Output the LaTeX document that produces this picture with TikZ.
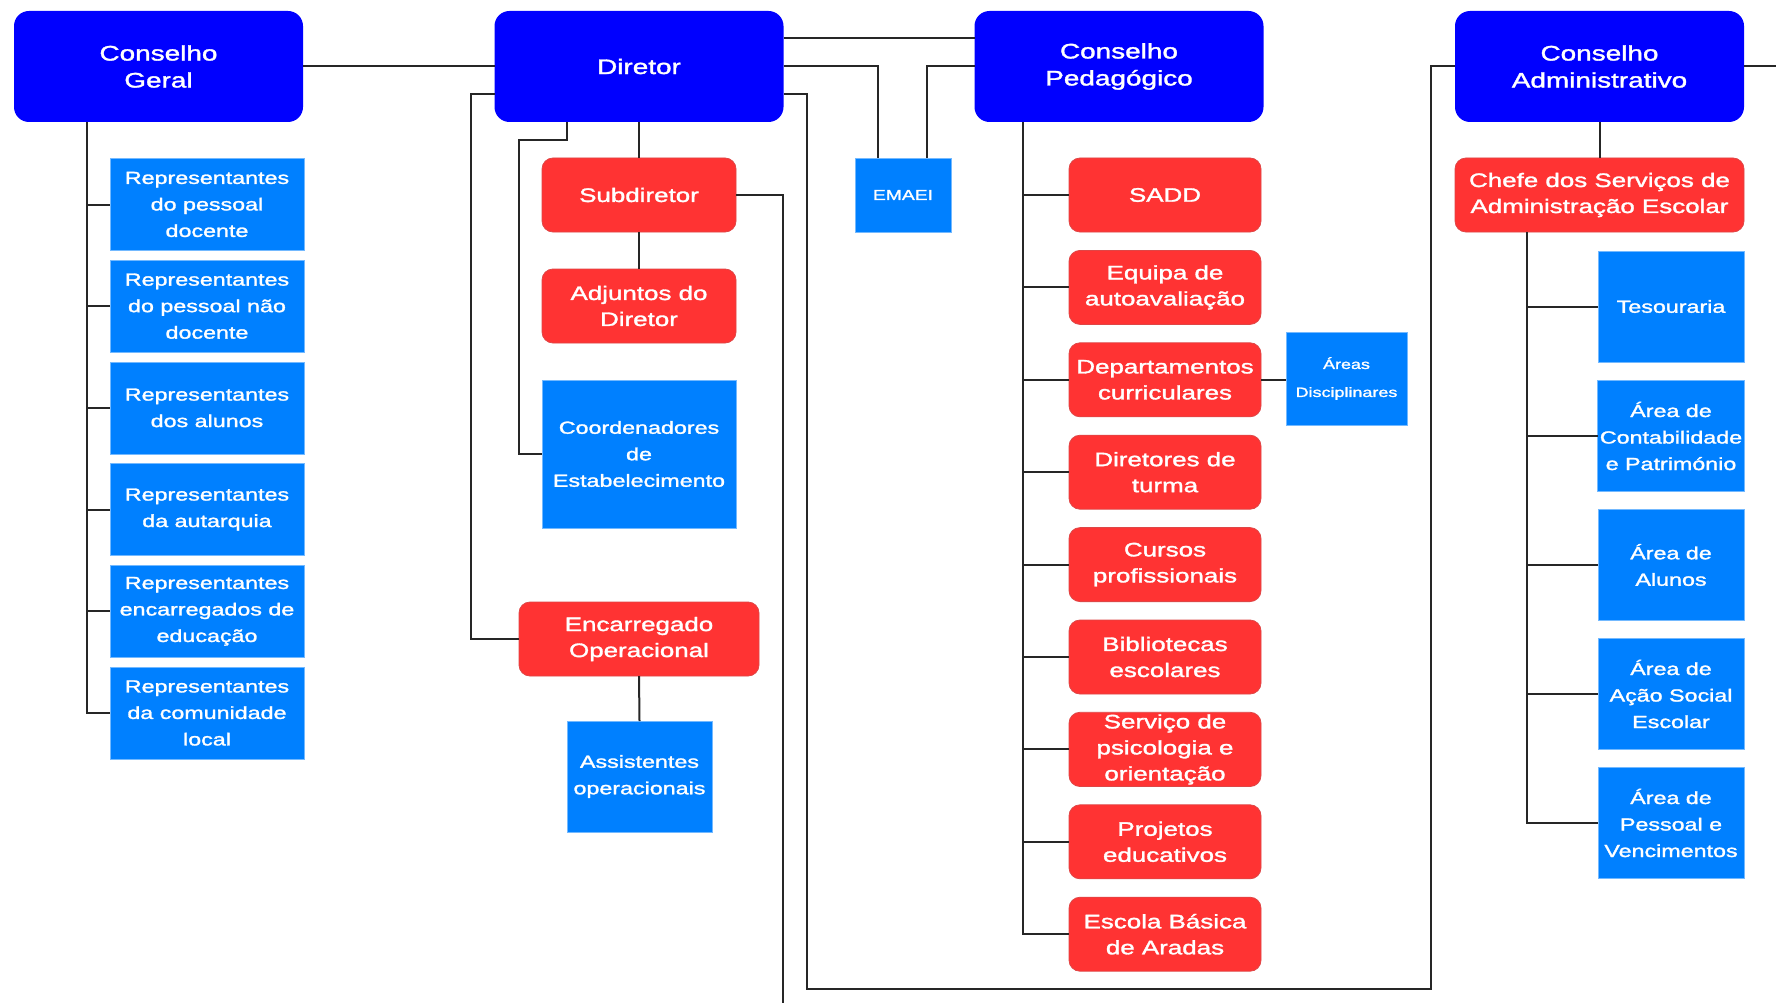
\documentclass[tikz,border=0pt]{standalone}
\usepackage{fontspec}
\setmainfont{Liberation Sans}[FakeStretch=1.33,FakeBold=1.6]
\definecolor{chiefblue}{HTML}{0000FF}
\definecolor{officered}{HTML}{FF3333}
\definecolor{unitblue}{HTML}{0080FF}

\begin{document}
\begin{tikzpicture}[x=1pt,y=-1pt,
  conn/.style={draw=black!85, line width=2pt},
  chief/.style={fill=chiefblue, rounded corners=15pt, minimum width=289pt, minimum height=111pt, inner sep=2pt, outer sep=0pt, text=white, align=center, font=\fontsize{21}{27}\selectfont},
  office/.style={fill=officered, draw=officered!75!gray, line width=0.8pt, rounded corners=11pt, minimum width=192pt, minimum height=74pt, inner sep=2pt, outer sep=0pt, text=white, align=center, font=\fontsize{19.5}{26}\selectfont},
  unit/.style={fill=unitblue, draw=unitblue!55!white, line width=0.8pt, inner sep=2pt, outer sep=0pt, text=white, align=center, font=\fontsize{17.5}{26.5}\selectfont}]
\path[use as bounding box, fill=white] (0,0) rectangle (1776,1003);

\node[chief] (cg) at (158.5,66.5) {Conselho\\Geral};
\node[chief] (dir) at (639,66.5) {Diretor};
\node[chief] (cp) at (1119,66.5) {Conselho\\Pedagógico};
\node[chief] (ca) at (1599.5,66.5) {Conselho\\Administrativo};

\node[unit, minimum width=194pt, minimum height=92pt] (rep1) at (207,204.5) {Representantes\\do pessoal\\docente};
\node[unit, minimum width=194pt, minimum height=92pt] (rep2) at (207,306.2) {Representantes\\do pessoal não\\docente};
\node[unit, minimum width=194pt, minimum height=92pt] (rep3) at (207,407.9) {Representantes\\dos alunos};
\node[unit, minimum width=194pt, minimum height=92pt] (rep4) at (207,509.6) {Representantes\\da autarquia};
\node[unit, minimum width=194pt, minimum height=92pt] (rep5) at (207,611.3) {Representantes\\encarregados de\\educação};
\node[unit, minimum width=194pt, minimum height=92pt] (rep6) at (207,713) {Representantes\\da comunidade\\local};

\node[office, minimum width=194pt] (sub) at (639,195) {Subdiretor};
\node[office, minimum width=194pt] (adj) at (639,306) {Adjuntos do\\Diretor};
\node[unit, minimum width=194pt, minimum height=148pt] (coord) at (639,454) {Coordenadores\\de\\Estabelecimento};
\node[office, minimum width=240pt] (enc) at (639,639) {Encarregado\\Operacional};
\node[unit, minimum width=145pt, minimum height=111pt] (assist) at (639.5,776.5) {Assistentes\\operacionais};

\node[unit, minimum width=96pt, minimum height=74pt, font=\fontsize{14.5}{20}\selectfont] (emaei) at (903,195) {EMAEI};

\node[office] (sadd) at (1165,195) {SADD};
\node[office] (equipa) at (1165,287.4) {Equipa de\\autoavaliação};
\node[office] (dept) at (1165,379.8) {Departamentos\\curriculares};
\node[office] (turma) at (1165,472.2) {Diretores de\\turma};
\node[office] (cursos) at (1165,564.6) {Cursos\\profissionais};
\node[office] (biblio) at (1165,657) {Bibliotecas\\escolares};
\node[office] (spo) at (1165,749.4) {Serviço de\\psicologia e\\orientação};
\node[office] (proj) at (1165,841.8) {Projetos\\educativos};
\node[office] (escola) at (1165,934.2) {Escola Básica\\de Aradas};
\node[unit, minimum width=121pt, minimum height=93pt, font=\fontsize{13.5}{28}\selectfont] (areas) at (1346.5,378.5) {Áreas\\Disciplinares};

\node[office, minimum width=289pt] (chefe) at (1599.5,195) {Chefe dos Serviços de\\Administração Escolar};
\node[unit, minimum width=146pt, minimum height=111pt] (tes) at (1671,306.5) {Tesouraria};
\node[unit, minimum width=146pt, minimum height=111pt] (cont) at (1671,436) {Área de\\Contabilidade\\e Património};
\node[unit, minimum width=146pt, minimum height=111pt] (alun) at (1671,565) {Área de\\Alunos};
\node[unit, minimum width=146pt, minimum height=111pt] (acao) at (1671,694) {Área de\\Ação Social\\Escolar};
\node[unit, minimum width=146pt, minimum height=111pt] (pess) at (1671,823) {Área de\\Pessoal e\\Vencimentos};

\coordinate (cgspine) at ([xshift=-71.5pt]cg.south);
\coordinate (cpspine) at ([xshift=-96pt]cp.south);
\coordinate (chspine) at ([xshift=-72.5pt]chefe.south);
\coordinate (dirbend) at (519,140);
\coordinate (encbend) at (471,94);
\coordinate (loopL) at (807,989);
\coordinate (loopR) at (1431,989);
\coordinate (offR) at (1776,66.5);
\coordinate (offB) at (783,1003);

\draw[conn] (cg.east) -- (dir.west);
\draw[conn] ([yshift=28.5pt]dir.east) -- ([yshift=28.5pt]cp.west);
\draw[conn] (dir.east) -| ([xshift=-25pt]emaei.north);
\draw[conn] (cp.west) -| ([xshift=24pt]emaei.north);
\draw[conn] ([yshift=-27.5pt]dir.east) -| (loopL) -- (loopR) |- (ca.west);
\draw[conn] (ca.east) -- (offR);
\draw[conn] (dir.south) -- (sub.north);
\draw[conn] (sub.south) -- (adj.north);
\draw[conn] (sub.east) -| (offB);
\draw[conn] ([xshift=-72pt]dir.south) |- (dirbend) |- (coord.west);
\draw[conn] ([yshift=-27.5pt]dir.west) -- (encbend) |- (enc.west);
\draw[conn] (enc.south) -- (assist.north);
\draw[conn] (cgspine) |- (rep6.west);
\foreach \n in {rep1,rep2,rep3,rep4,rep5}
  \draw[conn] (cgspine |- \n.west) -- (\n.west);
\draw[conn] (cpspine) |- (escola.west);
\foreach \n in {sadd,equipa,dept,turma,cursos,biblio,spo,proj}
  \draw[conn] (cpspine |- \n.west) -- (\n.west);
\draw[conn] (dept.east) -- (dept.east -| areas.west);
\draw[conn] (ca.south) -- (chefe.north);
\draw[conn] (chspine) |- (pess.west);
\foreach \n in {tes,cont,alun,acao}
  \draw[conn] (chspine |- \n.west) -- (\n.west);
\end{tikzpicture}
\end{document}
